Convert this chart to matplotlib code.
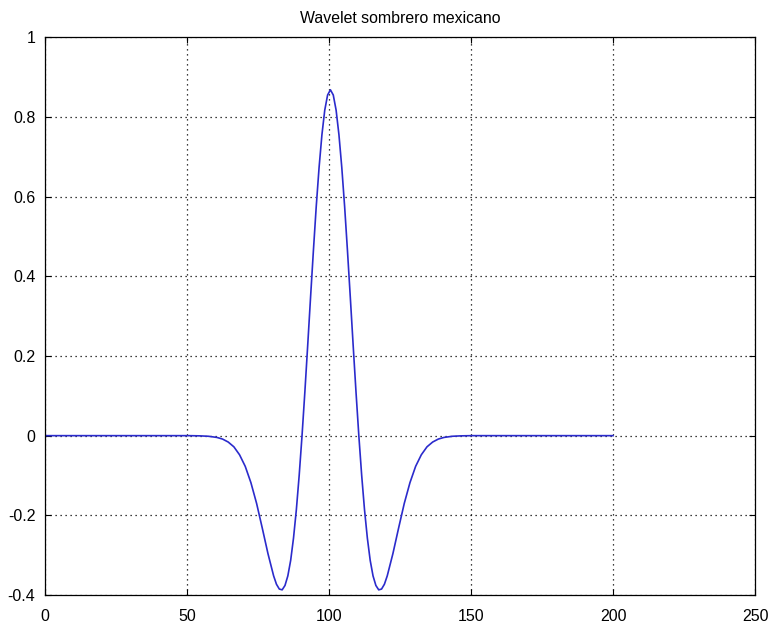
import matplotlib
matplotlib.use("Agg")
import matplotlib.pyplot as plt

# puntos de la wavelet sombrero mexicano (muestra n, amplitud)
n = [0, 50.5, 54.5, 57.5, 60.5, 62.5, 64.5, 66.5, 68.5, 70.5, 72.5, 74.5, 76.5,
     78.5, 80.5, 81.5, 82.5, 83.5, 84.5, 85.5, 86.5, 87.5, 88.5, 89.5, 90.5,
     91.5, 92.5, 93.5, 94.5, 95.5, 96.5, 97.5, 98.5, 99.5, 100.5,
     101.5, 102.5, 103.5, 104.5, 105.5, 106.5, 107.5, 108.5, 109.5, 110.5,
     111.5, 112.5, 113.5, 114.5, 115.5, 116.5, 117.5, 118.5, 119.5, 120.5,
     122.5, 124.5, 126.5, 128.5, 130.5, 132.5, 134.5, 136.5, 138.5, 140.5,
     143.5, 146.5, 150.5, 200]
psi = [0, 0, -0.0005, -0.0015, -0.0044, -0.0085, -0.016, -0.028, -0.048, -0.077,
       -0.118, -0.170, -0.232, -0.296, -0.352, -0.373, -0.385, -0.387, -0.376,
       -0.352, -0.313, -0.257, -0.186, -0.0995, 0, 0.110, 0.227, 0.347, 0.464,
       0.575, 0.673, 0.755, 0.817, 0.855, 0.868,
       0.855, 0.817, 0.755, 0.673, 0.575, 0.464, 0.347, 0.227, 0.110, 0,
       -0.0995, -0.186, -0.257, -0.313, -0.352, -0.376, -0.387, -0.385, -0.373,
       -0.352, -0.296, -0.232, -0.170, -0.118, -0.077, -0.048, -0.028, -0.016,
       -0.0085, -0.0044, -0.0015, -0.0005, 0, 0]

xticks = [0, 50, 100, 150, 200, 250]
yticks = [-0.4, -0.2, 0, 0.2, 0.4, 0.6, 0.8, 1]

plt.rcParams["font.family"] = ["Liberation Sans", "DejaVu Sans"]

fig = plt.figure(figsize=(7.68, 6.27), dpi=100)
ax = fig.add_axes([0.0586, 0.0510, 0.9245, 0.8896])

ax.plot(n, psi, color="#2b2bcc", linewidth=1.2)

ax.set_xlim(0, 250)
ax.set_ylim(-0.4, 1)
ax.set_xticks(xticks)
ax.set_yticks(yticks)
ax.set_xticklabels([str(t) for t in xticks])
ax.set_yticklabels(["-0.4", "-0.2", "0", "0.2", "0.4", "0.6", "0.8", "1"])

ax.grid(True, color="black", linestyle=(0, (1, 3)), linewidth=0.9)
ax.tick_params(direction="in", top=True, right=True, length=4, width=0.8,
               labelsize=11.5)
ax.tick_params(axis="x", pad=10)
ax.tick_params(axis="y", pad=7)
for s in ax.spines.values():
    s.set_linewidth(0.9)

ax.set_title("Wavelet sombrero mexicano", fontsize=11.4, pad=10)

fig.savefig("out.png", dpi=100)
